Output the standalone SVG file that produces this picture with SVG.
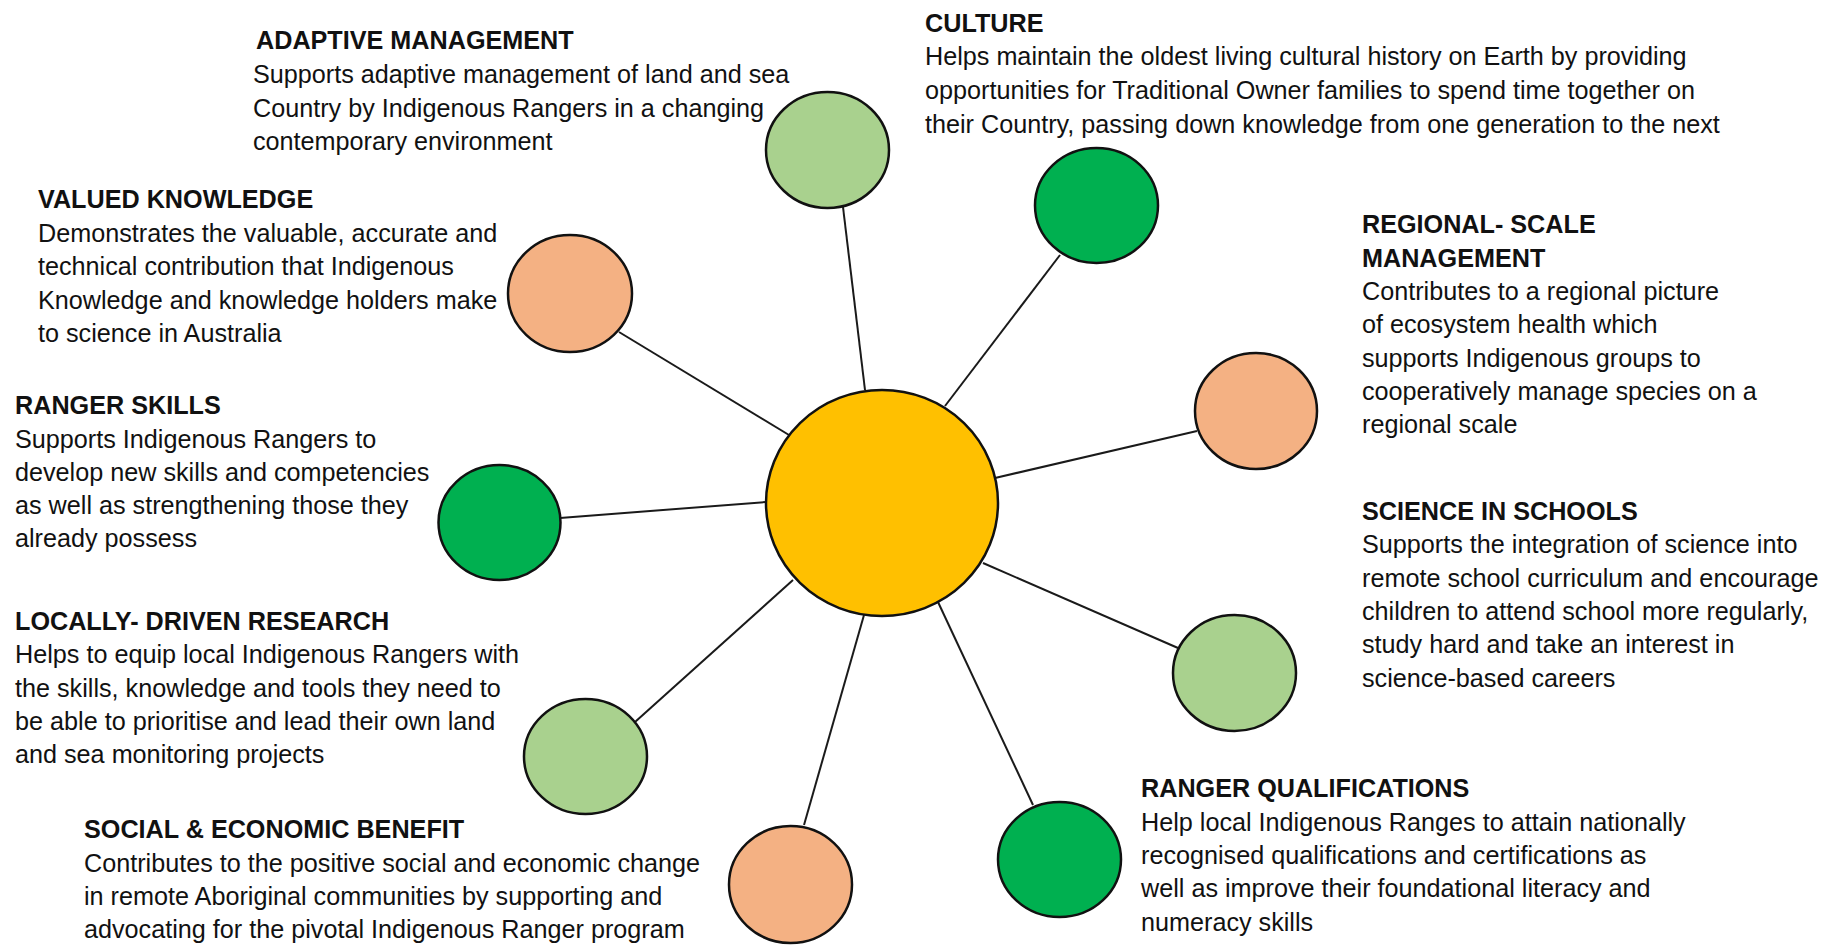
<svg xmlns="http://www.w3.org/2000/svg" width="1831" height="945" viewBox="0 0 1831 945">
<style>
.bg{fill:#ffffff}
.node{stroke:#111;stroke-width:2.5}
.lg{fill:#A9D18E}
.dg{fill:#00B050}
.or{fill:#F4B183}
.ye{fill:#FFC000}
.edge{stroke:#1a1a1a;stroke-width:2;fill:none}
text{font-family:"Liberation Sans",Arial,sans-serif;font-size:25.2px;fill:#111}
.h{font-weight:bold}
</style>
<rect class="bg" x="0" y="0" width="1831" height="945"/>
<g id="connectors">
<line class="edge" x1="843" y1="207" x2="865" y2="390"/>
<line class="edge" x1="619" y1="332" x2="789" y2="435"/>
<line class="edge" x1="560" y1="518" x2="766" y2="502"/>
<line class="edge" x1="635" y1="722" x2="793" y2="580"/>
<line class="edge" x1="804" y1="825" x2="864" y2="615"/>
<line class="edge" x1="1060" y1="255" x2="945" y2="406"/>
<line class="edge" x1="1197" y1="431" x2="995" y2="478"/>
<line class="edge" x1="1178" y1="648" x2="983" y2="563"/>
<line class="edge" x1="1033" y1="805" x2="938" y2="602"/>
</g>
<g id="center"><ellipse class="node ye" cx="882" cy="503" rx="116" ry="113"/></g>
<g id="adaptive-management">
<ellipse class="node lg" cx="827.5" cy="150" rx="61.5" ry="58"/>
<text x="256" y="49" class="h">ADAPTIVE MANAGEMENT</text>
<text x="253"><tspan x="253" y="83">Supports adaptive management of land and sea</tspan><tspan x="253" y="117">Country by Indigenous Rangers in a changing</tspan><tspan x="253" y="150">contemporary environment</tspan></text>
</g>
<g id="valued-knowledge">
<ellipse class="node or" cx="570" cy="293.5" rx="62" ry="58.5"/>
<text x="38" y="208" class="h">VALUED KNOWLEDGE</text>
<text><tspan x="38" y="242">Demonstrates the valuable, accurate and</tspan><tspan x="38" y="275">technical contribution that Indigenous</tspan><tspan x="38" y="309">Knowledge and knowledge holders make</tspan><tspan x="38" y="342">to science in Australia</tspan></text>
</g>
<g id="ranger-skills">
<ellipse class="node dg" cx="499.5" cy="522.5" rx="61" ry="57.5"/>
<text x="15" y="414" class="h">RANGER SKILLS</text>
<text><tspan x="15" y="448">Supports Indigenous Rangers to</tspan><tspan x="15" y="481">develop new skills and competencies</tspan><tspan x="15" y="514">as well as strengthening those they</tspan><tspan x="15" y="547">already possess</tspan></text>
</g>
<g id="locally-driven-research">
<ellipse class="node lg" cx="585.5" cy="756.5" rx="61.5" ry="57.5"/>
<text x="15" y="630" class="h">LOCALLY- DRIVEN RESEARCH</text>
<text><tspan x="15" y="663">Helps to equip local Indigenous Rangers with</tspan><tspan x="15" y="697">the skills, knowledge and tools they need to</tspan><tspan x="15" y="730">be able to prioritise and lead their own land</tspan><tspan x="15" y="763">and sea monitoring projects</tspan></text>
</g>
<g id="social-economic-benefit">
<ellipse class="node or" cx="790.5" cy="884.5" rx="61.5" ry="58.5"/>
<text x="84" y="838" class="h">SOCIAL &amp; ECONOMIC BENEFIT</text>
<text><tspan x="84" y="872">Contributes to the positive social and economic change</tspan><tspan x="84" y="905">in remote Aboriginal communities by supporting and</tspan><tspan x="84" y="938">advocating for the pivotal Indigenous Ranger program</tspan></text>
</g>
<g id="culture">
<ellipse class="node dg" cx="1096.5" cy="205.5" rx="61.5" ry="57.5"/>
<text x="925" y="32" class="h">CULTURE</text>
<text><tspan x="925" y="65">Helps maintain the oldest living cultural history on Earth by providing</tspan><tspan x="925" y="99">opportunities for Traditional Owner families to spend time together on</tspan><tspan x="925" y="133">their Country, passing down knowledge  from one generation to the next</tspan></text>
</g>
<g id="regional-scale-management">
<ellipse class="node or" cx="1256" cy="411" rx="61" ry="58"/>
<text class="h"><tspan x="1362" y="233">REGIONAL- SCALE</tspan><tspan x="1362" y="267">MANAGEMENT</tspan></text>
<text><tspan x="1362" y="300">Contributes to a regional picture</tspan><tspan x="1362" y="333">of ecosystem health which</tspan><tspan x="1362" y="367">supports Indigenous groups to</tspan><tspan x="1362" y="400">cooperatively manage species on a</tspan><tspan x="1362" y="433">regional scale</tspan></text>
</g>
<g id="science-in-schools">
<ellipse class="node lg" cx="1234.5" cy="673" rx="61.5" ry="58"/>
<text x="1362" y="520" class="h">SCIENCE IN SCHOOLS</text>
<text><tspan x="1362" y="553">Supports the integration of science into</tspan><tspan x="1362" y="587">remote school curriculum and encourage</tspan><tspan x="1362" y="620">children to attend school more regularly,</tspan><tspan x="1362" y="653">study hard and take an  interest in</tspan><tspan x="1362" y="687">science-based careers</tspan></text>
</g>
<g id="ranger-qualifications">
<ellipse class="node dg" cx="1059.5" cy="859.5" rx="61.5" ry="57.5"/>
<text x="1141" y="797" class="h">RANGER QUALIFICATIONS</text>
<text><tspan x="1141" y="831">Help local Indigenous Ranges to attain nationally</tspan><tspan x="1141" y="864">recognised qualifications and certifications as</tspan><tspan x="1141" y="897">well as improve their foundational literacy and</tspan><tspan x="1141" y="931">numeracy skills</tspan></text>
</g>
</svg>
